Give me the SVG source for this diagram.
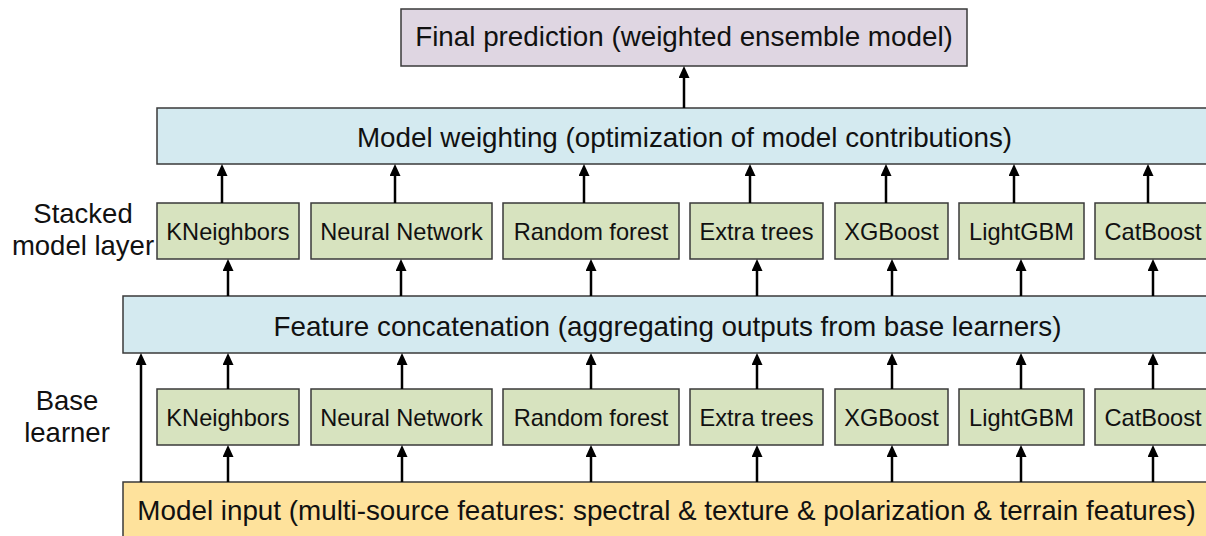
<svg xmlns="http://www.w3.org/2000/svg" width="1206" height="536" viewBox="0 0 1206 536">
  <style>
    .box { stroke: #3a3a3a; stroke-width: 1.5; }
    .final { fill: #dfd6e2; }
    .band { fill: #d4eaf0; }
    .model { fill: #d7e3bf; }
    .input { fill: #fee29c; }
    .big { font-family: "Liberation Sans", Arial, sans-serif; font-size: 27.8px; fill: #111; text-anchor: middle; }
    .small { font-family: "Liberation Sans", Arial, sans-serif; font-size: 23.6px; fill: #111; text-anchor: middle; }
    .side { font-family: "Liberation Sans", Arial, sans-serif; font-size: 27.5px; fill: #111; text-anchor: middle; }
    .conn line { stroke: #000; stroke-width: 2.5; marker-end: url(#ah); }
  </style>
  <defs>
    <marker id="ah" markerUnits="userSpaceOnUse" markerWidth="12" markerHeight="11" viewBox="0 0 12 11" refX="2" refY="5.5" orient="auto">
      <path d="M0,0 L12,5.5 L0,11 z" fill="#000"/>
    </marker>
  </defs>

  <rect width="1206" height="536" fill="#ffffff"/>

  <!-- side labels -->
  <g id="label-stacked">
    <text class="side" x="83" y="223">Stacked</text>
    <text class="side" x="83" y="255">model layer</text>
  </g>
  <g id="label-base">
    <text class="side" x="67" y="410">Base</text>
    <text class="side" x="67" y="442">learner</text>
  </g>

  <!-- top output -->
  <g id="final-prediction">
    <rect class="box final" x="401" y="9" width="566" height="57"/>
    <text class="big" x="684" y="46">Final prediction (weighted ensemble model)</text>
  </g>

  <g id="model-weighting">
    <rect class="box band" x="157" y="108" width="1055" height="56"/>
    <text class="big" x="684.5" y="147">Model weighting (optimization of model contributions)</text>
  </g>

  <!-- stacked model layer -->
  <g id="stk-kneighbors"><rect class="box model" x="157" y="203" width="142" height="56"/><text class="small" x="228" y="239.5">KNeighbors</text></g>
  <g id="stk-neural"><rect class="box model" x="311" y="203" width="181" height="56"/><text class="small" x="401.5" y="239.5">Neural Network</text></g>
  <g id="stk-rf"><rect class="box model" x="503" y="203" width="176" height="56"/><text class="small" x="591" y="239.5">Random forest</text></g>
  <g id="stk-et"><rect class="box model" x="690" y="203" width="133" height="56"/><text class="small" x="756.5" y="239.5">Extra trees</text></g>
  <g id="stk-xgb"><rect class="box model" x="835" y="203" width="113" height="56"/><text class="small" x="891.5" y="239.5">XGBoost</text></g>
  <g id="stk-lgbm"><rect class="box model" x="959" y="203" width="125" height="56"/><text class="small" x="1021.5" y="239.5">LightGBM</text></g>
  <g id="stk-cat"><rect class="box model" x="1095" y="203" width="117" height="56"/><text class="small" x="1153" y="239.5">CatBoost</text></g>

  <g id="feature-concat">
    <rect class="box band" x="123" y="296" width="1089" height="57"/>
    <text class="big" x="667.5" y="336">Feature concatenation (aggregating outputs from base learners)</text>
  </g>

  <!-- base learners -->
  <g id="base-kneighbors"><rect class="box model" x="157" y="389" width="142" height="56"/><text class="small" x="228" y="425.5">KNeighbors</text></g>
  <g id="base-neural"><rect class="box model" x="311" y="389" width="181" height="56"/><text class="small" x="401.5" y="425.5">Neural Network</text></g>
  <g id="base-rf"><rect class="box model" x="503" y="389" width="176" height="56"/><text class="small" x="591" y="425.5">Random forest</text></g>
  <g id="base-et"><rect class="box model" x="690" y="389" width="133" height="56"/><text class="small" x="756.5" y="425.5">Extra trees</text></g>
  <g id="base-xgb"><rect class="box model" x="835" y="389" width="113" height="56"/><text class="small" x="891.5" y="425.5">XGBoost</text></g>
  <g id="base-lgbm"><rect class="box model" x="959" y="389" width="125" height="56"/><text class="small" x="1021.5" y="425.5">LightGBM</text></g>
  <g id="base-cat"><rect class="box model" x="1095" y="389" width="117" height="56"/><text class="small" x="1153" y="425.5">CatBoost</text></g>

  <g id="model-input">
    <rect class="box input" x="123" y="482" width="1089" height="60"/>
    <text class="big" x="666.5" y="520">Model input (multi-source features: spectral &amp; texture &amp; polarization &amp; terrain features)</text>
  </g>

  <!-- connectors -->
  <g id="connectors" class="conn">
    <line x1="684" y1="108" x2="684" y2="76"/>

    <line x1="222" y1="203" x2="222" y2="174"/>
    <line x1="395" y1="203" x2="395" y2="174"/>
    <line x1="584" y1="203" x2="584" y2="174"/>
    <line x1="750" y1="203" x2="750" y2="174"/>
    <line x1="886" y1="203" x2="886" y2="174"/>
    <line x1="1014" y1="203" x2="1014" y2="174"/>
    <line x1="1148" y1="203" x2="1148" y2="174"/>

    <line x1="228" y1="296" x2="228" y2="269"/>
    <line x1="401" y1="296" x2="401" y2="269"/>
    <line x1="591" y1="296" x2="591" y2="269"/>
    <line x1="757" y1="296" x2="757" y2="269"/>
    <line x1="892" y1="296" x2="892" y2="269"/>
    <line x1="1021" y1="296" x2="1021" y2="269"/>
    <line x1="1153" y1="296" x2="1153" y2="269"/>

    <line x1="228" y1="389" x2="228" y2="363"/>
    <line x1="402" y1="389" x2="402" y2="363"/>
    <line x1="591" y1="389" x2="591" y2="363"/>
    <line x1="757" y1="389" x2="757" y2="363"/>
    <line x1="892" y1="389" x2="892" y2="363"/>
    <line x1="1021" y1="389" x2="1021" y2="363"/>
    <line x1="1153" y1="389" x2="1153" y2="363"/>

    <line x1="228" y1="482" x2="228" y2="455"/>
    <line x1="402" y1="482" x2="402" y2="455"/>
    <line x1="591" y1="482" x2="591" y2="455"/>
    <line x1="757" y1="482" x2="757" y2="455"/>
    <line x1="892" y1="482" x2="892" y2="455"/>
    <line x1="1021" y1="482" x2="1021" y2="455"/>
    <line x1="1153" y1="482" x2="1153" y2="455"/>

    <line x1="141" y1="482" x2="141" y2="363"/>
  </g>
</svg>
